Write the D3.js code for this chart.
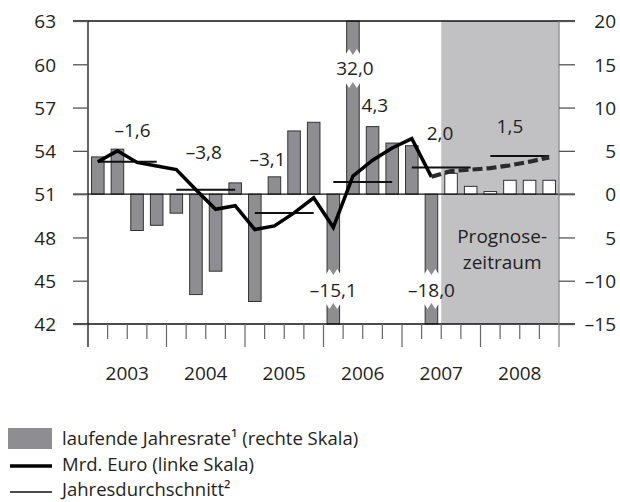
<!DOCTYPE html>
<html>
<head>
<meta charset="utf-8">
<script src="https://cdn.jsdelivr.net/npm/d3@7"></script>
<style>
  body { margin: 0; background: #fff; }
  text { font-family: "Open Sans", sans-serif; fill: #231f20; }
</style>
</head>
<body>
<div id="chart"></div>
<script>
// categories
var years = ["2003", "2004", "2005", "2006", "2007", "2008"];
var quarters = years.flatMap(function (y) { return ["Q1", "Q2", "Q3", "Q4"].map(function (q) { return y + q; }); });
var forecastFrom = "2007Q3";

// laufende Jahresrate (right scale), one per quarter
var rate = [4.3, 5.2, -4.2, -3.6, -2.2, -11.6, -8.9, 1.3,
            -12.4, 2.0, 7.3, 8.3, -15.1, 32.0, 7.8, 5.9,
            5.6, -18.0, 2.4, 0.9, 0.3, 1.6, 1.6, 1.6];

// Mrd. Euro (left scale), actual 2003Q1..2007Q2
var euro = [53.25, 54.0, 53.2, 52.95, 52.7, 51.3, 49.95, 50.2,
            48.55, 48.8, 49.7, 50.75, 48.7, 52.25, 53.35, 54.2,
            54.85, 52.2];
// Mrd. Euro forecast 2007Q3..2008Q4
var euroForecast = [52.6, 52.7, 52.8, 53.0, 53.25, 53.55];

// Jahresdurchschnitt (left scale)
var yearAvg = [53.25, 51.3, 49.7, 51.85, 52.85, 53.65];
var yearRate = ["–1,6", "–3,8", "–3,1", "4,3", "2,0", "1,5"];

var leftTicks = [42, 45, 48, 51, 54, 57, 60, 63];
var rightTicks = [-15, -10, -5, 0, 5, 10, 15, 20];
var rightTickLabels = ["–15", "–10", "5", "0", "5", "10", "15", "20"];

var legendItems = ["laufende Jahresrate¹ (rechte Skala)", "Mrd. Euro (linke Skala)", "Jahresdurchschnitt²"];

var width = 620, height = 502;
var x0 = 88, x1 = 559, yTop = 21, yBot = 324;

var svg = d3.select("#chart").append("svg")
    .attr("width", width)
    .attr("height", height);

var x = d3.scaleBand().domain(quarters).range([x0, x1]).paddingInner(0.36).paddingOuter(0.18);
var xq = d3.scaleLinear().domain([0, 24]).range([x0, x1]);  // quarter boundaries
var yL = d3.scaleLinear().domain([42, 63]).range([yBot, yTop]);
var yR = d3.scaleLinear().domain([-15, 20]).range([yBot, yTop]);
var cx = function (q) { return x(q) + x.bandwidth() / 2; };
var clampR = function (v) { return Math.max(-15, Math.min(20, v)); };
var fmt = function (v) { return (v < 0 ? "–" : "") + Math.abs(v).toFixed(1).replace(".", ","); };

var fIdx = quarters.indexOf(forecastFrom);

// Prognose background
svg.append("rect")
    .attr("x", xq(fIdx)).attr("y", yTop)
    .attr("width", x1 - xq(fIdx)).attr("height", yBot - yTop)
    .attr("fill", "#c1c1c4");

// bars
svg.selectAll("rect.bar")
  .data(rate)
  .enter().append("rect")
    .attr("class", "bar")
    .attr("x", function (d, i) { return x(quarters[i]); })
    .attr("width", x.bandwidth())
    .attr("y", function (d) { return yR(Math.max(0, clampR(d))); })
    .attr("height", function (d) { return Math.abs(yR(clampR(d)) - yR(0)); })
    .attr("fill", function (d, i) { return i >= fIdx ? "#fff" : "#8e8e92"; })
    .attr("stroke", "#333")
    .attr("stroke-width", 1);

// broken bars: white zigzag gap + value label
var broken = rate.map(function (d, i) { return { v: d, q: quarters[i] }; })
    .filter(function (d) { return d.v > 20 || d.v < -15; });

broken.forEach(function (d) {
  var l = x(d.q) - 1.5, r = x(d.q) + x.bandwidth() + 1.5, m = (l + r) / 2;
  var a = d.v > 0 ? 52 : 272, b = d.v > 0 ? 85 : 306;
  var pts = [[l, a + 3], [l + (r - l) / 4, a - 3], [m, a + 3], [r - (r - l) / 4, a - 3], [r, a + 3],
             [r, b - 3], [r - (r - l) / 4, b + 3], [m, b - 3], [l + (r - l) / 4, b + 3], [l, b - 3]];
  svg.append("polygon")
      .attr("points", pts.map(function (p) { return p.join(","); }).join(" "))
      .attr("fill", "#fff");
  svg.append("text")
      .attr("x", cx(d.q) + (d.v > 0 ? 2 : 0))
      .attr("y", d.v > 0 ? 75 : 297)
      .attr("text-anchor", "middle")
      .attr("font-size", 19)
      .text(fmt(d.v));
});

// Jahresdurchschnitt lines
svg.selectAll("line.avg")
  .data(yearAvg)
  .enter().append("line")
    .attr("class", "avg")
    .attr("x1", function (d, i) { return cx(years[i] + "Q1"); })
    .attr("x2", function (d, i) { return cx(years[i] + "Q4"); })
    .attr("y1", function (d) { return yL(d); })
    .attr("y2", function (d) { return yL(d); })
    .attr("stroke", "#111")
    .attr("stroke-width", 2);

// Mrd. Euro line
var line = d3.line()
    .x(function (d) { return cx(d.q); })
    .y(function (d) { return yL(d.v); });

svg.append("path")
    .datum(euro.map(function (v, i) { return { q: quarters[i], v: v }; }))
    .attr("d", line)
    .attr("fill", "none")
    .attr("stroke", "#000")
    .attr("stroke-width", 3.5);

var fc = [{ q: quarters[fIdx - 1], v: euro[euro.length - 1] }]
    .concat(euroForecast.map(function (v, i) { return { q: quarters[fIdx + i], v: v }; }));
svg.append("path")
    .datum(fc)
    .attr("d", line)
    .attr("fill", "none")
    .attr("stroke", "#2b2b2b")
    .attr("stroke-width", 4.2)
    .attr("stroke-dasharray", "10,4");

// annual rate labels (x in quarters from year start, y baseline in left units)
var rateLabelPos = [[2.27, 54.98], [1.9, 53.43], [1.15, 52.97], [2.62, 56.71], [1.94, 54.75], [1.5, 55.26]];
svg.selectAll("text.rate")
  .data(yearRate)
  .enter().append("text")
    .attr("class", "rate")
    .attr("x", function (d, i) { return xq(i * 4 + rateLabelPos[i][0]); })
    .attr("y", function (d, i) { return yL(rateLabelPos[i][1]); })
    .attr("text-anchor", "middle")
    .attr("font-size", 19)
    .text(function (d) { return d; });

// Prognosezeitraum label
svg.append("text")
    .attr("x", (xq(fIdx) + x1) / 2 + 2)
    .attr("y", 243)
    .attr("text-anchor", "middle")
    .attr("font-size", 19)
    .selectAll("tspan")
    .data(["Prognose-", "zeitraum"])
    .enter().append("tspan")
      .attr("x", (xq(fIdx) + x1) / 2 + 2)
      .attr("dy", function (d, i) { return i ? 26 : 0; })
      .text(function (d) { return d; });

// frame and zero line
var hl = [yTop, yR(0), yBot];
svg.selectAll("line.h")
  .data(hl)
  .enter().append("line")
    .attr("x1", x0 - 15).attr("x2", x1 + 16)
    .attr("y1", function (d) { return d; }).attr("y2", function (d) { return d; })
    .attr("stroke", "#111").attr("stroke-width", 1.3);

svg.append("line")
    .attr("x1", x0).attr("x2", x0).attr("y1", yTop).attr("y2", yBot + 23)
    .attr("stroke", "#111").attr("stroke-width", 1.3);
svg.append("line")
    .attr("x1", x1).attr("x2", x1).attr("y1", yTop).attr("y2", yBot + 23)
    .attr("stroke", "#8a8a8a").attr("stroke-width", 1.3);

// left axis
var axL = svg.append("g")
    .attr("transform", "translate(" + x0 + ",0)")
    .call(d3.axisLeft(yL).tickValues(leftTicks).tickSize(15).tickPadding(17).tickFormat(d3.format("d")));
axL.select(".domain").remove();
axL.selectAll("line").attr("stroke", "#555").attr("stroke-width", 1.3);
axL.selectAll("text").attr("font-size", 19).attr("font-family", null).attr("dy", "0.36em");

// right axis
var axR = svg.append("g")
    .attr("transform", "translate(" + x1 + ",0)")
    .call(d3.axisRight(yR).tickValues(rightTicks).tickSize(16)
      .tickFormat(function (d, i) { return rightTickLabels[i]; }));
axR.select(".domain").remove();
axR.selectAll("line").attr("stroke", "#555").attr("stroke-width", 1.3);
axR.selectAll("text").attr("font-size", 19).attr("font-family", null)
    .attr("text-anchor", "end").attr("x", 57).attr("dy", "0.36em");

// quarter ticks
svg.selectAll("line.qt")
  .data(d3.range(1, 24))
  .enter().append("line")
    .attr("x1", function (d) { return xq(d); }).attr("x2", function (d) { return xq(d); })
    .attr("y1", yBot)
    .attr("y2", function (d) { return d % 4 === 0 ? yBot + 23 : yBot + 15; })
    .attr("stroke", "#666").attr("stroke-width", 1.2);

// year labels
svg.selectAll("text.year")
  .data(years)
  .enter().append("text")
    .attr("x", function (d, i) { return xq(i * 4 + 2); })
    .attr("y", 380)
    .attr("text-anchor", "middle")
    .attr("font-size", 19)
    .text(function (d) { return d; });

// legend
var lg = svg.append("g").attr("transform", "translate(8,438)");
lg.append("rect").attr("x", 0).attr("y", -10).attr("width", 44).attr("height", 21).attr("fill", "#8e8e92");
lg.append("line").attr("x1", 2).attr("x2", 44).attr("y1", 28).attr("y2", 28).attr("stroke", "#000").attr("stroke-width", 3.5);
lg.append("line").attr("x1", 2).attr("x2", 44).attr("y1", 54).attr("y2", 54).attr("stroke", "#111").attr("stroke-width", 1.5);
lg.selectAll("text")
  .data(legendItems)
  .enter().append("text")
    .attr("x", 54)
    .attr("y", function (d, i) { return 7 + i * 25.5; })
    .attr("font-size", 18.5)
    .text(function (d) { return d; });
</script>
</body>
</html>
